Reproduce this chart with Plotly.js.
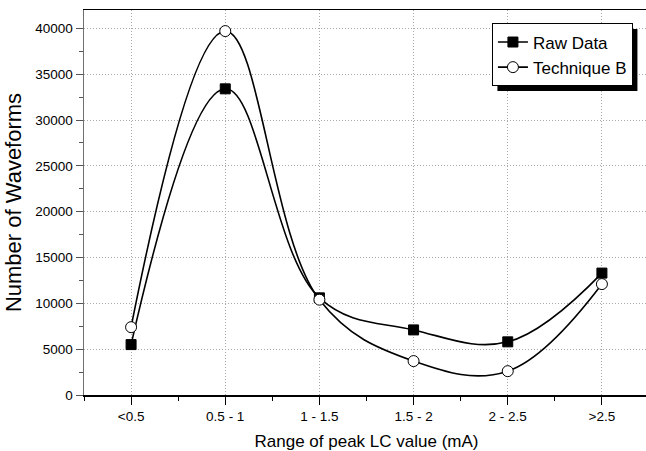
<!DOCTYPE html>
<html>
<head>
<meta charset="utf-8">
<script src="https://cdn.plot.ly/plotly-3.0.1.min.js"></script>
<style>
html,body{margin:0;padding:0;overflow:hidden;background:#fff;width:646px;height:451px;}
#chart{width:649px;height:451px;}
</style>
</head>
<body>
<div id="chart"></div>
<script>
// Data
const categories = ["<0.5", "0.5 - 1", "1 - 1.5", "1.5 - 2", "2 - 2.5", ">2.5"];
const rawData = [5500, 33400, 10600, 7100, 5800, 13300];
const techniqueB = [7400, 39700, 10400, 3700, 2600, 12100];
const yTickVals = [0, 5000, 10000, 15000, 20000, 25000, 30000, 35000, 40000];
const yTickText = ["0", "5000", "10000", "15000", "20000", "25000", "30000", "35000", "40000"];

const xPos = categories.map((c, i) => i);
const font = "Liberation Sans, Arial, sans-serif";

const traces = [
  {
    x: xPos, y: rawData, name: "Raw Data", type: "scatter", mode: "lines+markers",
    line: {color: "#000", width: 1.6, shape: "spline", smoothing: 1.1},
    marker: {symbol: "square", size: 10, color: "#000", line: {color: "#000", width: 1}}
  },
  {
    x: xPos, y: techniqueB, name: "Technique B", type: "scatter", mode: "lines+markers",
    line: {color: "#000", width: 1.6, shape: "spline", smoothing: 1.1},
    marker: {symbol: "circle", size: 11, color: "#fff", line: {color: "#000", width: 1}}
  }
];

const layout = {
  width: 649, height: 451,
  margin: {l: 84, r: 0, t: 10, b: 56},
  paper_bgcolor: "#fff", plot_bgcolor: "#fff",
  font: {family: font, size: 13.5, color: "#000"},
  showlegend: true,
  legend: {
    x: 0.722, y: 0.965, xanchor: "left", yanchor: "top",
    bgcolor: "#fff", bordercolor: "#000", borderwidth: 1,
    font: {family: font, size: 17, color: "#000"},
    tracegroupgap: 0
  },
  xaxis: {
    range: [-0.5, 5.5],
    tickmode: "array", tickvals: xPos, ticktext: categories,
    ticks: "outside", ticklen: 8, tickcolor: "#000", tickwidth: 1,
    showline: true, linecolor: "#000", linewidth: 1.5, mirror: true,
    showgrid: true, gridcolor: "#a8a8a8", griddash: "1px,2px", gridwidth: 1,
    zeroline: false,
    minor: {tickmode: "array", tickvals: [-0.5, 0.5, 1.5, 2.5, 3.5, 4.5, 5.5], ticks: "outside", ticklen: 4, tickcolor: "#000", showgrid: false},
    title: {text: "Range of peak LC value (mA)", font: {family: font, size: 17, color: "#000"}, standoff: 12},
    tickfont: {family: font, size: 13.5, color: "#000"}
  },
  yaxis: {
    range: [0, 42000],
    tickmode: "array", tickvals: yTickVals, ticktext: yTickText,
    ticks: "outside", ticklen: 7, tickcolor: "#555", tickwidth: 1,
    showline: true, linecolor: "#707070", linewidth: 1.5,
    showgrid: true, gridcolor: "#a8a8a8", griddash: "1px,2px", gridwidth: 1,
    zeroline: false,
    minor: {tickmode: "array", tickvals: [2500, 7500, 12500, 17500, 22500, 27500, 32500, 37500], ticks: "outside", ticklen: 4, tickcolor: "#555", showgrid: false},
    title: {text: "Number of Waveforms", font: {family: font, size: 22, color: "#000"}, standoff: 7},
    tickfont: {family: font, size: 13.5, color: "#000"}
  }
};

Plotly.newPlot("chart", traces, layout, {displayModeBar: false, staticPlot: true}).then(function (gd) {
  // drop shadow behind the legend box, placed from the rendered legend size
  const bg = gd.querySelector(".legend .bg");
  const bb = bg.getBoundingClientRect();
  const sz = gd._fullLayout._size;
  const off = 5;
  const toPx = (px) => (px - sz.l) / sz.w;
  const toPy = (py) => (sz.t + sz.h - py) / sz.h;
  return Plotly.relayout(gd, {
    shapes: [{
      type: "rect", xref: "paper", yref: "paper", layer: "above",
      x0: toPx(bb.left + off), x1: toPx(bb.right + off),
      y0: toPy(bb.bottom + off), y1: toPy(bb.top + off),
      fillcolor: "#000", line: {width: 0}
    }]
  });
});
</script>
</body>
</html>
